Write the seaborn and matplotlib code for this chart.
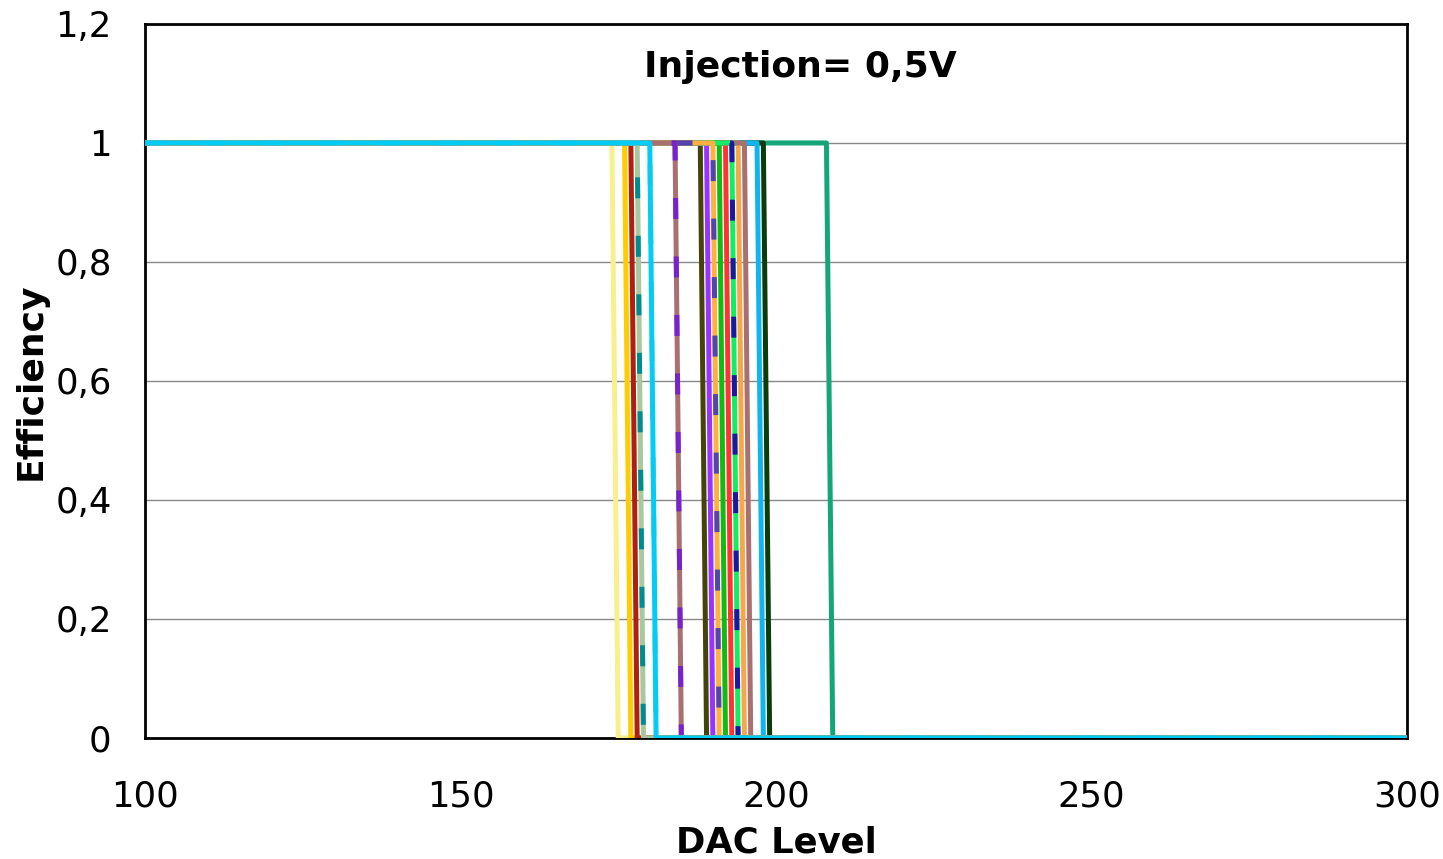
import numpy as np
import pandas as pd
import matplotlib
matplotlib.use("Agg")
import matplotlib.pyplot as plt
import seaborn as sns

# DAC level at which each channel's efficiency is last 1 (drops to 0 at next step)
drop_levels = [208, 198, 197, 194, 195, 192, 191, 188, 189,
               193, 193, 190, 190, 184, 184,
               174, 176, 177, 178, 178, 180, 180]
colors = ["#14A578", "#0B3D0B", "#10B4EE", "#F5A74A", "#A87070", "#FF3333", "#11BB11", "#44440A", "#9933FF",
          "#11EE66", "#1A1AA0", "#FFB040", "#5544AA", "#A87070", "#7722CC",
          "#F8F08C", "#FFCC00", "#B02010", "#A8C8A0", "#008C8C", "#A8C8A0", "#00CCF5"]
styles = ["solid", "solid", "solid", "solid", "solid", "solid", "solid", "solid", "solid",
          "solid", "dash", "solid", "dash", "solid", "dash",
          "solid", "solid", "solid", "solid", "dash", "dash", "solid"]

x_min, x_max = 100, 300
y_ticks = [0, 0.2, 0.4, 0.6, 0.8, 1.0, 1.2]
y_tick_labels = ["0", "0,2", "0,4", "0,6", "0,8", "1", "1,2"]
x_ticks = [100, 150, 200, 250, 300]
x_tick_labels = ["100", "150", "200", "250", "300"]

rows = []
for i, d in enumerate(drop_levels):
    for xv, yv in zip([x_min, d, d + 1, x_max], [1, 1, 0, 0]):
        rows.append({"series": i, "DAC": xv, "eff": yv})
df = pd.DataFrame(rows)

sns.set_theme(style="white")
plt.rcParams["font.family"] = ["DejaVu Sans"]
plt.rcParams["text.color"] = "black"

fig = plt.figure(figsize=(14.43, 8.59), dpi=100)
ax = fig.add_axes([0.1005, 0.1409, 0.8745, 0.8312])

for i in range(len(drop_levels)):
    sub = df[df["series"] == i]
    ls = (0, (4.2, 7.5)) if styles[i] == "dash" else "-"
    sns.lineplot(data=sub, x="DAC", y="eff", ax=ax, color=colors[i], lw=3.6,
                 linestyle=ls, legend=False, estimator=None, sort=False, zorder=3 + i * 0.01)

ax.set_xlim(x_min, x_max)
ax.set_ylim(0, 1.2)
ax.set_yticks(y_ticks)
ax.set_yticklabels(y_tick_labels)
ax.set_xticks(x_ticks)
ax.set_xticklabels(x_tick_labels)
ax.tick_params(axis="both", labelsize=25.5, labelcolor="black", direction="out",
               length=9, width=1.2, color="#888888")
ax.tick_params(axis="x", pad=21)
ax.tick_params(axis="y", pad=15)
ax.yaxis.grid(True, color="#888888", lw=1.0)
ax.xaxis.grid(False)
ax.set_axisbelow(True)
for s in ax.spines.values():
    s.set_color("black")
    s.set_linewidth(2)
    s.set_visible(True)

ax.set_xlabel("DAC Level", fontsize=25.5, fontweight="bold", color="black")
ax.xaxis.label.set_va("center")
ax.xaxis.set_label_coords(0.5, -0.147)
ax.set_ylabel("Efficiency", fontsize=26, fontweight="bold", color="black")
ax.yaxis.label.set_va("center")
ax.yaxis.set_label_coords(-0.091, 0.499)
ax.text(203.8, 1.127, "Injection= 0,5V", fontsize=26, fontweight="bold",
        ha="center", va="center", color="black")

fig.savefig("out.png", dpi=100)
